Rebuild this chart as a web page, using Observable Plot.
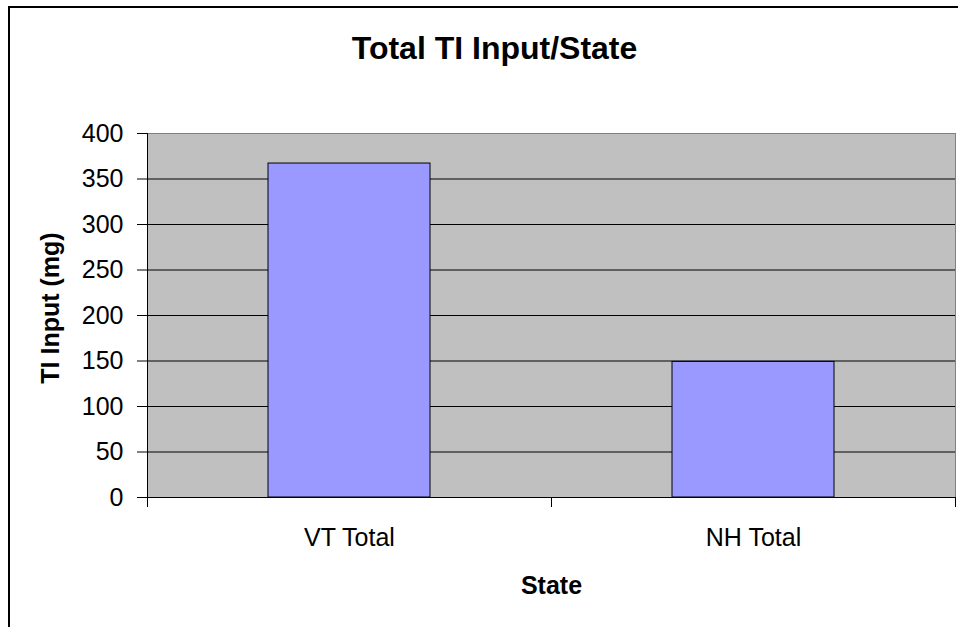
<!DOCTYPE html>
<html><head><meta charset="utf-8">
<script src="https://cdn.jsdelivr.net/npm/d3@7"></script>
<script src="https://cdn.jsdelivr.net/npm/@observablehq/plot@0.6"></script>
<style>
html,body{margin:0;padding:0;background:#fff;}
#wrap{position:relative;width:958px;height:627px;overflow:hidden;}
#border{position:absolute;left:8px;top:6px;width:1000px;height:700px;border-left:2px solid #000;border-top:2px solid #000;}
#chart{position:absolute;left:0;top:0;}
</style></head><body>
<div id="wrap"><div id="border"></div><div id="chart"></div></div>
<script>
const categories = ["VT Total", "NH Total"];
const values = [367, 149];
const yTicks = [0, 50, 100, 150, 200, 250, 300, 350, 400];
const title = "Total TI Input/State";
const xLabel = "State";
const yLabel = "TI Input (mg)";

const data = categories.map((c, i) => ({state: c, value: values[i]}));
const font = "'Liberation Sans', Arial, sans-serif";

const plot = Plot.plot({
  width: 958, height: 627,
  marginLeft: 147, marginRight: 3, marginTop: 133, marginBottom: 130,
  style: {fontFamily: font, fontSize: "25px", color: "#000", background: "transparent", overflow: "visible"},
  x: {domain: categories, paddingInner: 0.6, paddingOuter: 0.3, label: null},
  y: {domain: [0, 400], label: null},
  marks: [
    Plot.frame({fill: "#c0c0c0", stroke: "#808080"}),
    Plot.gridY(yTicks.filter(t => t > 0 && t < 400), {stroke: "#000", strokeOpacity: 1}),
    Plot.barY(data, {x: "state", y: "value", fill: "#9999ff", stroke: "#000", strokeWidth: 1}),
    Plot.ruleY([0], {stroke: "#000"}),
    Plot.frame({anchor: "left", stroke: "#000"}),
    Plot.axisY(yTicks, {tickSize: 10, tickPadding: 14, stroke: "#000", fill: "#000", fontSize: 25, label: null}),
    Plot.axisX({tickSize: 0, tickPadding: 31, fill: "#000", fontSize: 25, label: null}),
    Plot.text([title], {text: d => d, frameAnchor: "top", textAnchor: "middle", dx: -57, dy: -75, lineAnchor: "bottom", fontSize: 32, fontWeight: "bold", fill: "#000"}),
    Plot.text([xLabel], {text: d => d, frameAnchor: "bottom", textAnchor: "middle", dy: 96, lineAnchor: "bottom", fontSize: 25, fontWeight: "bold", fill: "#000"}),
    Plot.text([yLabel], {text: d => d, frameAnchor: "left", textAnchor: "middle", rotate: -90, dx: -89, dy: -7.5, lineAnchor: "bottom", fontSize: 25, fontWeight: "bold", fill: "#000"})
  ]
});

// category-boundary ticks on the x axis, positioned from the library's band scale
const sx = plot.scale("x");
const sy = plot.scale("y");
const y0 = sy.apply(0);
d3.select(plot).append("g")
  .attr("stroke", "#000")
  .selectAll("line")
  .data(d3.range(categories.length + 1))
  .join("line")
  .attr("x1", i => Math.round(sx.range[0] + i * sx.step) + 0.5)
  .attr("x2", i => Math.round(sx.range[0] + i * sx.step) + 0.5)
  .attr("y1", y0)
  .attr("y2", y0 + 10);

document.getElementById("chart").appendChild(plot);
</script>
</body></html>
